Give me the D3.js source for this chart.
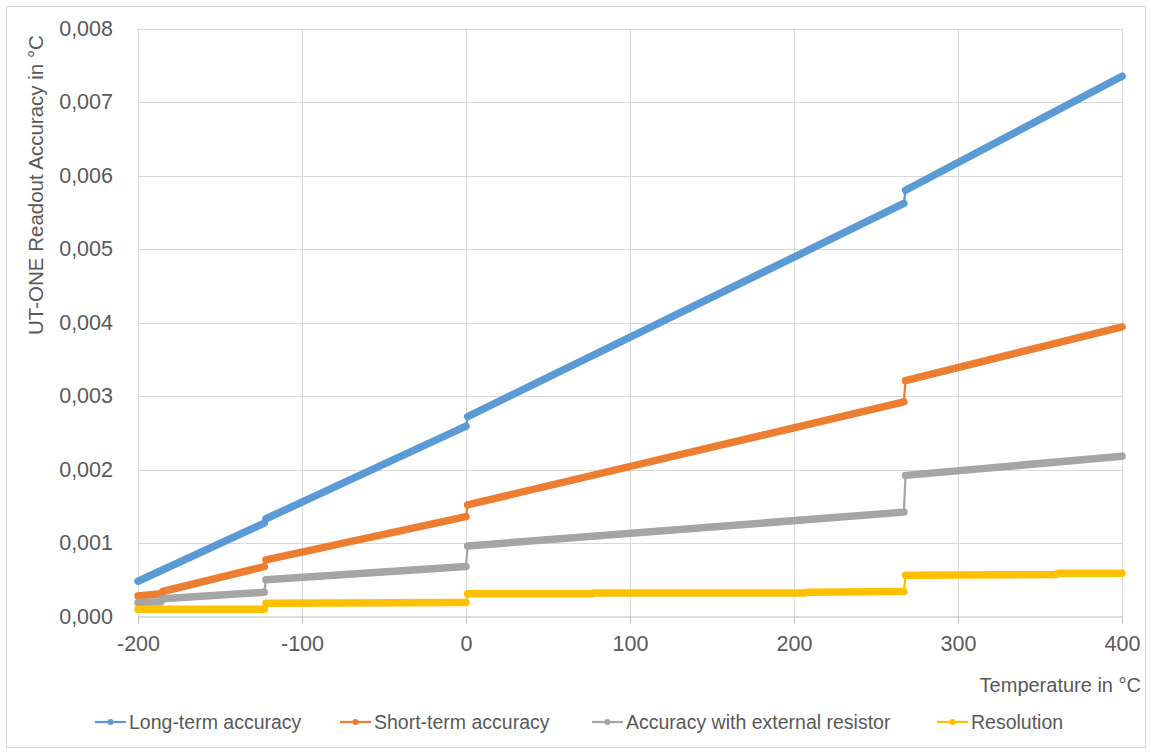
<!DOCTYPE html>
<html><head><meta charset="utf-8">
<script src="https://cdn.jsdelivr.net/npm/d3@7"></script>
<style>body{margin:0;background:#fff}svg text{font-family:"Liberation Sans",Arial,sans-serif;fill:#595959}</style>
</head><body><svg id="c" width="1151" height="753"></svg>
<script>
const xTicks = [-200, -100, 0, 100, 200, 300, 400];
const yTicks = [0, 0.001, 0.002, 0.003, 0.004, 0.005, 0.006, 0.007, 0.008];
const seriesNames = ["Long-term accuracy", "Short-term accuracy", "Accuracy with external resistor", "Resolution"];
const seriesColors = ["#5b9bd5", "#ed7d31", "#a5a5a5", "#ffc000"];
// each series: segments between the jumps, as [temperature, accuracy] points
const longTerm = [
  [[-200, 0.00048], [-123, 0.00127]],
  [[-122, 0.00133], [0, 0.00259]],
  [[1, 0.00272], [267, 0.00562]],
  [[268, 0.00580], [400, 0.00735]]
];
const shortTerm = [
  [[-200, 0.00028], [-186, 0.00031], [-185, 0.00034], [-123, 0.00068]],
  [[-122, 0.00077], [0, 0.00136]],
  [[1, 0.00152], [267, 0.00292]],
  [[268, 0.00321], [400, 0.00394]]
];
const extResistor = [
  [[-200, 0.00019], [-186, 0.00020], [-185, 0.00024], [-123, 0.00033]],
  [[-122, 0.00050], [0, 0.00068]],
  [[1, 0.00096], [267, 0.00142]],
  [[268, 0.00192], [400, 0.00218]]
];
const resolution = [
  [[-200, 0.00010], [-123, 0.00010]],
  [[-122, 0.00018], [0, 0.00019]],
  [[1, 0.00031], [77, 0.00031], [78, 0.00032], [207, 0.00032], [208, 0.00033], [267, 0.00034]],
  [[268, 0.00056], [360, 0.00057], [361, 0.00059], [400, 0.00059]]
];
const allSeries = [longTerm, shortTerm, extResistor, resolution];

const svg = d3.select("#c");
svg.append("rect").attr("x", 6.5).attr("y", 6.5).attr("width", 1139).attr("height", 741)
  .attr("fill", "#fff").attr("stroke", "#d9d9d9");

const x = d3.scaleLinear().domain([-200, 400]).range([138, 1122]);
const y = d3.scaleLinear().domain([0, 0.008]).range([616.5, 28.5]);

// gridlines
svg.append("g").selectAll("line").data(yTicks.slice(1)).join("line")
  .attr("x1", x(-200)).attr("x2", x(400)).attr("y1", d => Math.round(y(d)) + 0.5).attr("y2", d => Math.round(y(d)) + 0.5)
  .attr("stroke", "#d9d9d9");
svg.append("g").selectAll("line").data(xTicks).join("line")
  .attr("x1", d => Math.round(x(d)) + 0.5).attr("x2", d => Math.round(x(d)) + 0.5).attr("y1", y(0.008)).attr("y2", y(0))
  .attr("stroke", "#d9d9d9");

// x axis
const xAxis = svg.append("g").attr("transform", `translate(0,${y(0)})`)
  .call(d3.axisBottom(x).tickValues(xTicks).tickSize(7).tickPadding(12).tickFormat(d => String(d)));
xAxis.select(".domain").attr("stroke", "#bfbfbf");
xAxis.selectAll(".tick line").attr("stroke", "#bfbfbf");
xAxis.selectAll("text").style("font-size", "21.5px").attr("fill", "#595959");

// y axis
const fmtY = d => d3.format(".3f")(d).replace(".", ",");
const yAxis = svg.append("g").attr("transform", `translate(${x(-200)},0)`)
  .call(d3.axisLeft(y).tickValues(yTicks).tickSize(0).tickPadding(25).tickFormat(fmtY));
yAxis.select(".domain").remove();
yAxis.selectAll("text").style("font-size", "21.5px").attr("fill", "#595959");

// axis titles
svg.append("text").attr("x", 1141).attr("y", 692).attr("text-anchor", "end")
  .style("font-size", "20px").text("Temperature in °C");
svg.append("text").attr("transform", "translate(43,185) rotate(-90)").attr("text-anchor", "middle")
  .style("font-size", "20.5px").text("UT-ONE Readout Accuracy in °C");

// series
const line = d3.line().x(d => x(d[0])).y(d => y(d[1]));
allSeries.forEach((segs, i) => {
  const g = svg.append("g");
  const flat = segs.flat();
  g.append("path").attr("d", line(flat)).attr("fill", "none")
    .attr("stroke", seriesColors[i]).attr("stroke-width", 2.25);
  segs.forEach(s => {
    g.append("path").attr("d", line(s)).attr("fill", "none")
      .attr("stroke", seriesColors[i]).attr("stroke-width", 7.5)
      .attr("stroke-linecap", "round").attr("stroke-linejoin", "round");
  });
});

// legend
const legendX = [95, 340, 592, 937];
const lg = svg.append("g").selectAll("g").data(seriesNames).join("g")
  .attr("transform", (d, i) => `translate(${legendX[i]},722)`);
lg.append("line").attr("x1", 0).attr("x2", 31).attr("stroke", (d, i) => seriesColors[i]).attr("stroke-width", 2.25);
lg.append("circle").attr("cx", 15.5).attr("r", 3).attr("fill", (d, i) => seriesColors[i]);
lg.append("text").attr("x", 34).attr("y", 7).style("font-size", "19.5px").text(d => d);
</script></body></html>
